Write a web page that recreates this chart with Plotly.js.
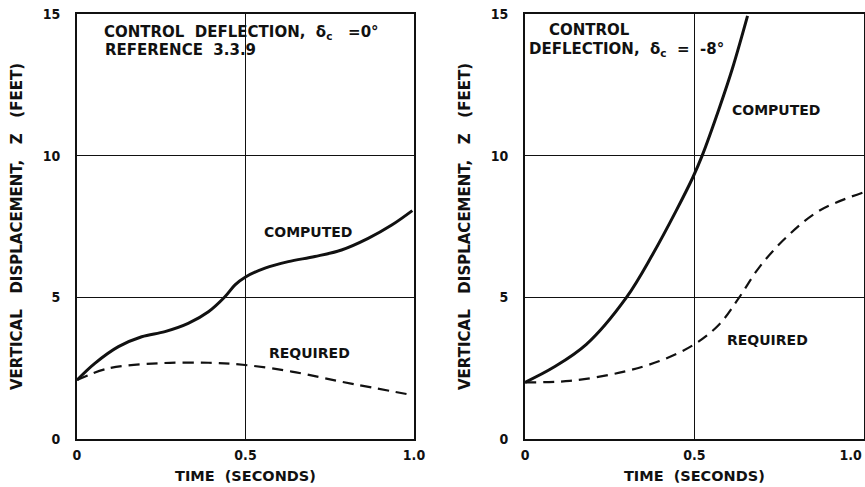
<!DOCTYPE html>
<html><head><meta charset="utf-8">
<script src="https://cdn.plot.ly/plotly-3.0.1.min.js"></script>
<style>html,body{margin:0;padding:0;background:#fff}#c{width:865px;height:487px}</style>
</head><body><div id="c"></div>
<script>
// Left panel: control deflection 0 deg
const tLeftComputed = [0, 0.053, 0.123, 0.192, 0.261, 0.33, 0.39, 0.439, 0.469, 0.499, 0.558, 0.627, 0.706, 0.785, 0.864, 0.934, 0.995];
const zLeftComputed = [2.08, 2.67, 3.26, 3.61, 3.79, 4.08, 4.49, 5.02, 5.44, 5.71, 6.03, 6.26, 6.44, 6.67, 7.08, 7.55, 8.06];
const tLeftRequired = [0, 0.093, 0.241, 0.39, 0.499, 0.637, 0.785, 0.995];
const zLeftRequired = [2.08, 2.49, 2.67, 2.69, 2.61, 2.38, 2.02, 1.55];
// Right panel: control deflection -8 deg
const tRightComputed = [0, 0.083, 0.181, 0.299, 0.377, 0.446, 0.495, 0.523, 0.574, 0.613, 0.657];
const zRightComputed = [2.0, 2.52, 3.34, 4.99, 6.52, 8.05, 9.22, 10.0, 11.69, 13.1, 14.93];
const tRightRequired = [0, 0.132, 0.279, 0.397, 0.5, 0.574, 0.632, 0.691, 0.77, 0.868, 0.998];
const zRightRequired = [2.0, 2.05, 2.34, 2.75, 3.34, 4.05, 4.99, 6.05, 7.1, 8.05, 8.7];
const xTicks = [0, 0.5, 1.0];
const xTickTextLeft = ['0', '0.5', '1.0'];
const xTickTextRight = ['0', '0.5', '1.0\u00a0\u00a0\u00a0\u00a0\u00a0\u00a0'];
const yTicks = [0, 5, 10, 15];
const yTickText = ['0', '5', '10', '15'];

const FONT = 'DejaVu Sans';
const CFONT = 'DejaVu Sans Condensed, DejaVu Sans';
const INK = '#111';

const traces = [
  {x: tLeftComputed, y: zLeftComputed, xaxis: 'x', yaxis: 'y', mode: 'lines', line: {color: INK, width: 3, shape: 'spline', smoothing: 1}},
  {x: tLeftRequired, y: zLeftRequired, xaxis: 'x', yaxis: 'y', mode: 'lines', line: {color: INK, width: 2.2, dash: '11px,7px', shape: 'spline', smoothing: 1}},
  {x: tRightComputed, y: zRightComputed, xaxis: 'x2', yaxis: 'y2', mode: 'lines', line: {color: INK, width: 3, shape: 'spline', smoothing: 1}},
  {x: tRightRequired, y: zRightRequired, xaxis: 'x2', yaxis: 'y2', mode: 'lines', line: {color: INK, width: 2.2, dash: '11px,7px', shape: 'spline', smoothing: 1}}
];

function xax(domain, labels) {
  return {domain: domain, range: [0, 1], tickvals: xTicks, ticktext: labels, showgrid: true, gridcolor: INK, gridwidth: 1.5,
    showline: true, mirror: true, linecolor: INK, linewidth: 2, zeroline: false, ticks: '', fixedrange: true,
    ticklabeloverflow: 'allow', ticklabelstandoff: 2,
    tickfont: {family: CFONT, size: 14, color: INK, weight: 'bold'},
    title: {text: 'TIME  (SECONDS)', font: {family: FONT, size: 14.5, color: INK, weight: 'bold'}, standoff: 9}};
}
function yax(anchor) {
  return {domain: [0.0986, 0.9713], range: [0, 15], tickvals: yTicks, ticktext: yTickText, showgrid: true, gridcolor: INK, gridwidth: 1.5,
    showline: true, mirror: true, linecolor: INK, linewidth: 2, zeroline: false, ticks: '', anchor: anchor, fixedrange: true,
    ticklabelstandoff: 12,
    tickfont: {family: CFONT, size: 14, color: INK, weight: 'bold'},
    title: {text: 'VERTICAL   DISPLACEMENT,   Z   (FEET)', font: {family: FONT, size: 15, color: INK, weight: 'bold'}, standoff: 16}};
}

const tf = {family: FONT, size: 15, color: INK, weight: 'bold'};
const lf = {family: FONT, size: 14, color: INK, weight: 'bold'};
const layout = {
  width: 865, height: 487, margin: {l: 0, r: 0, t: 0, b: 0}, showlegend: false,
  paper_bgcolor: '#fff', plot_bgcolor: '#fff',
  xaxis: Object.assign(xax([0.089, 0.4786], xTickTextLeft), {anchor: 'y'}),
  yaxis: yax('x'),
  xaxis2: Object.assign(xax([0.607, 0.9985], xTickTextRight), {anchor: 'y2'}),
  yaxis2: yax('x2'),
  annotations: [
    {xref: 'x', yref: 'y', x: 0.074, y: 14.35, text: 'CONTROL  DEFLECTION,  δ<sub>c</sub>   =0°', showarrow: false, xanchor: 'left', yanchor: 'middle', font: tf},
    {xref: 'x', yref: 'y', x: 0.076, y: 13.72, text: 'REFERENCE  3.3.9', showarrow: false, xanchor: 'left', yanchor: 'middle', font: tf},
    {xref: 'x', yref: 'y', x: 0.685, y: 7.3, text: 'COMPUTED', showarrow: false, xanchor: 'center', yanchor: 'middle', font: lf},
    {xref: 'x', yref: 'y', x: 0.69, y: 3.05, text: 'REQUIRED', showarrow: false, xanchor: 'center', yanchor: 'middle', font: lf},
    {xref: 'x2', yref: 'y2', x: 0.065, y: 14.42, text: 'CONTROL', showarrow: false, xanchor: 'left', yanchor: 'middle', font: tf},
    {xref: 'x2', yref: 'y2', x: 0.005, y: 13.75, text: 'DEFLECTION,  δ<sub>c</sub>  =  -8°', showarrow: false, xanchor: 'left', yanchor: 'middle', font: tf},
    {xref: 'x2', yref: 'y2', x: 0.74, y: 11.6, text: 'COMPUTED', showarrow: false, xanchor: 'center', yanchor: 'middle', font: lf},
    {xref: 'x2', yref: 'y2', x: 0.715, y: 3.5, text: 'REQUIRED', showarrow: false, xanchor: 'center', yanchor: 'middle', font: lf}
  ]
};
Plotly.newPlot('c', traces, layout, {staticPlot: true, displayModeBar: false});
</script></body></html>
